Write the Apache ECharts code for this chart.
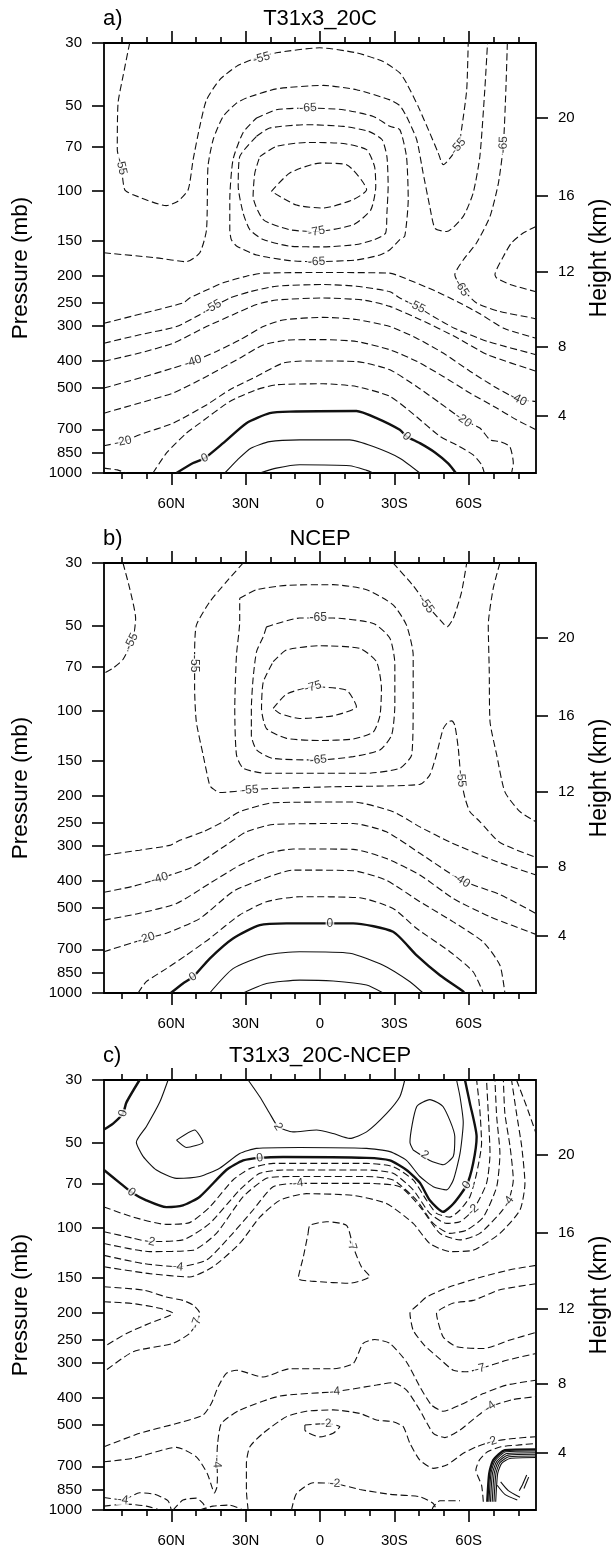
<!DOCTYPE html>
<html><head><meta charset="utf-8">
<script src="https://cdn.jsdelivr.net/npm/echarts@6/dist/echarts.min.js"></script>
<style>html,body{margin:0;padding:0;background:#fff}#c{width:611px;height:1552px}</style>
</head><body><div id="c"></div>
<script>
const FONT = '"Liberation Sans", Arial, Helvetica, sans-serif';
// ---- axes values ----
const latMajor = [60, 30, 0, -30, -60];
const latMinor = [80, 70, 50, 40, 20, 10, -10, -20, -40, -50, -70, -80];
const latRange = [-87.16, 87.16];
const presTicks = [30, 50, 70, 100, 150, 200, 250, 300, 400, 500, 700, 850, 1000];
const presRange = [30, 1000];
const heightKm = [4, 8, 12, 16, 20];
const heightPres = [625, 358, 194, 104, 55.3];
const titles = ['T31x3_20C', 'NCEP', 'T31x3_20C-NCEP'];
const letters = ['a)', 'b)', 'c)'];

// ---- panel a contours [lat, pressure] ----
const aN55top = [[76.8,30],[79.5,39.4],[81.5,49],[81.8,71.6],[80.2,82.1],[78.8,99.3],[75.4,103.4],[62.0,113],[57.3,109],[53.2,99.3],[51.2,77.7],[48.5,59.2],[45.8,47.7],[40.5,40.5],[33.7,36.3],[27.0,34.2],[17.6,32.5],[0.1,31.2],[-14.7,32.5],[-25.5,34.9],[-32.2,38.3],[-34.9,41.6],[-39.6,50.3],[-44.3,62.5],[-47.7,73.5],[-49.7,80.9],[-55.8,69.7],[-57.1,60.8],[-59.2,43.9],[-59.8,30]];
const aN60top = [[87.16,166],[66.0,173],[53.9,178.5],[48.5,166],[45.8,137.6],[45.2,82.1],[43.1,65.9],[39.1,54.6],[33.7,49.0],[29.7,47.0],[17.6,43.6],[-1.3,42.4],[-14.7,43.9],[-28.2,47.7],[-32.2,50.0],[-34.9,54.6],[-39.0,65.9],[-41.6,86.6],[-44.3,113.8],[-46.4,136],[-51.1,139.6],[-57.8,123.4],[-61.8,102],[-64.5,75.8],[-66.5,43.9],[-67.6,30]];
const aN65loop = [[25.6,55.3],[17.6,51.7],[4.8,51.0],[-9.4,51.7],[-21.5,54.6],[-28.2,59.2],[-32.2,60.8],[-34.9,75.8],[-35.6,107.6],[-34.2,145],[-32.2,149],[-28.2,162],[-24.2,169],[-14.7,176],[1.4,178.5],[12.2,177],[25.6,169],[33.7,157],[35.8,149],[36.4,137.6],[36.4,107.6],[35.1,77.7],[31.0,62.2],[25.6,55.3]];
const aN70loop = [[25.6,64.2],[20.3,60.0],[5.5,58.4],[-9.4,59.2],[-19.5,61.6],[-25.0,65.9],[-27.0,75.8],[-27.5,96.6],[-27.0,120.2],[-26.5,141.3],[-22.0,149],[-14.7,155.2],[-1.3,158.2],[12.2,157.3],[22.9,149],[28.3,137.6],[31.0,120.2],[33.0,96.6],[32.4,75.8],[25.6,64.2]];
const aN75loop = [[24.3,75.8],[17.6,69.7],[5.5,67.5],[-9.4,68.1],[-18.8,71.6],[-22.0,82.1],[-22.5,96.6],[-20.5,117],[-13.5,132],[1.4,139.6],[12.2,137.6],[22.9,126.6],[27.0,104.8],[26.3,86.6],[24.3,75.8]];
const aN80loop = [[19.6,100.6],[12.2,86.6],[0.1,79.9],[-10.7,80.9],[-18.8,99.3],[-13.4,107.6],[-1.3,115.3],[9.5,112.5],[19.6,100.6]];
const aN65sh = [[-75.6,30],[-75.0,43.9],[-74.0,68.8],[-72.0,94],[-68.6,123.4],[-63.2,153],[-57.8,176],[-54.4,198.5],[-55.1,206.6],[-57.1,221],[-63.2,250],[-72.6,268],[-86.1,283],[-87.16,285]];
const aN70sh = [[-87.16,134],[-82.0,141.3],[-77.3,153],[-74.0,171],[-70.6,198.5],[-71.3,204],[-76.7,215],[-87.16,228]];
const aN60low = [[87.16,295],[71.4,272],[55.3,250],[52.6,240],[47.2,228],[39.1,212],[29.7,201],[22.9,196],[-1.3,195],[-28.2,196],[-32.2,201],[-45.7,225],[-56.5,250],[-64.5,273],[-74.4,308],[-87.16,333]];
const aN55low = [[87.16,347],[72.8,324],[57.9,303],[48.5,275],[43.1,258],[36.4,240],[28.3,228],[17.6,218],[-1.3,215],[-14.7,218],[-28.2,228],[-32.2,240],[-39.0,257],[-45.7,279],[-54.2,307],[-67.6,342],[-87.16,381]];
const aN50 = [[87.16,402],[72.8,376],[59.3,347],[45.8,303],[35.1,275],[25.6,253],[17.6,244],[-1.3,240],[-17.4,244],[-28.2,257],[-40.7,287],[-54.2,328],[-67.6,381],[-87.16,436]];
const aN40 = [[87.16,500],[72.8,461],[59.3,425],[51.2,403],[41.8,371],[32.4,338],[22.9,303],[14.9,287],[-1.3,281],[-14.7,286],[-28.2,303],[-39.0,333],[-49.7,376],[-60.5,436],[-71.3,500],[-80.0,548],[-87.16,558]];
const aN30 = [[87.16,614],[72.8,565],[59.3,521],[45.8,455],[32.4,392],[22.9,352],[12.2,338],[-1.3,337],[-14.7,342],[-28.2,366],[-39.0,402],[-49.7,455],[-60.5,521],[-71.3,589],[-79.3,648],[-87.16,703]];
const aN20 = [[87.16,801],[79.5,774],[72.8,732],[59.3,666],[45.8,574],[36.4,507],[25.6,455],[14.9,408],[5.5,401],[-14.7,403],[-28.2,431],[-39.0,494],[-48.4,565],[-57.8,648],[-64.5,693],[-68.6,763],[-72.6,774],[-76.6,806],[-78.0,922],[-77.3,1000]];
const aN10 = [[67.4,1000],[62.0,851],[53.9,722],[48.5,666],[36.4,558],[25.6,507],[17.6,487],[-1.3,483],[-14.7,494],[-28.2,535],[-38.0,622],[-48.4,742],[-55.1,795],[-61.8,863],[-65.2,935],[-66.3,1000]];
const aN10c = [[87.16,961],[81.8,975],[78.1,1000]];
const aZ0 = [[57.9,1000],[51.2,922],[46.5,886],[39.1,784],[29.7,666],[20.3,614],[12.2,606],[-14.7,603],[-22.8,639],[-32.2,703],[-34.9,742],[-40.3,784],[-46.4,846],[-51.8,927],[-54.8,1000]];
const aP10 = [[38.4,1000],[33.3,898],[27.9,817],[20.3,774],[8.2,763],[-12.0,763],[-21.5,806],[-32.2,886],[-40.3,1000]];
const aP20 = [[24.3,1000],[17.6,961],[8.2,935],[-12.0,943],[-18.8,979],[-21.5,1000]];
const contoursA = [[-55,aN55top],[-60,aN60top],[-65,aN65loop],[-70,aN70loop],[-75,aN75loop],[-80,aN80loop],[-65,aN65sh],[-70,aN70sh],[-60,aN60low],[-55,aN55low],[-50,aN50],[-40,aN40],[-30,aN30],[-20,aN20],[-10,aN10],[-10,aN10c],[0,aZ0],[10,aP10],[20,aP20]];
const labelsA = [[80.2,82,'-55'],[23.6,33.9,'-55'],[-55.8,69.7,'-55'],[4.8,51,'-65'],[1.4,178.5,'-65'],[1.4,139.6,'-75'],[-74.0,68.8,'-65'],[-57.1,221,'-65'],[43.1,258,'-55'],[-39.0,257,'-55'],[51.2,403,'-40'],[-80.0,548,'-40'],[79.5,774,'-20'],[-57.8,648,'-20'],[46.5,886,'0'],[-34.9,742,'0']];

// ---- panel b contours ----
const bN55nh = [[79.5,30],[76.8,36.9],[74.4,47.2],[75.5,55.9],[79.5,65.9],[83.5,70.7],[87.16,73.8]];
const bN55main = [[31.0,30],[37.8,35.0],[44.5,41.2],[49.9,49.9],[50.6,63.3],[50.6,83.5],[49.9,109.6],[47.2,143],[44.5,184],[43.2,189],[40.5,195],[28.3,191],[21.6,189],[-5.3,186],[-40.3,182.5],[-44.3,169],[-47.0,143],[-49.7,116],[-51.7,109.6],[-53.1,108.7],[-54.4,112.7],[-55.8,136],[-56.9,174],[-58.5,204],[-60.5,228],[-64.5,247],[-72.6,293],[-87.16,331]];
const bN60sh = [[-72.6,30],[-69.9,36.9],[-67.9,49.8],[-68.3,72.8],[-68.6,109.3],[-71.3,143.4],[-74.6,194],[-80.7,228],[-87.16,247.6]];
const bN55u = [[-29.5,30],[-37.6,36.1],[-44.3,43.4],[-49.7,49.1],[-51.3,50.5],[-53.8,47.1],[-57.1,38.1],[-59.2,30]];
const bN60loop = [[32.4,40.0],[25.7,37.3],[13.5,36.0],[-5.3,35.8],[-18.8,37.3],[-29.5,42.2],[-34.9,49.8],[-37.6,63.5],[-37.6,95.6],[-37.0,143.4],[-32.2,160],[-18.8,166.7],[21.6,166.7],[31.0,160],[33.7,143.4],[34.4,98.2],[33.7,63.5],[32.4,48.3],[32.4,40.0]];
const bN65loop = [[21.6,50.5],[8.2,47.0],[-5.3,47.0],[-21.5,49.1],[-28.2,55.4],[-30.2,68.2],[-30.2,95.6],[-28.9,122.2],[-24.2,137.8],[-13.4,145.5],[0.7,149.5],[19.3,147.5],[25.6,137.8],[27.7,122.2],[27.7,98.2],[27.0,76.9],[25.6,61.8],[22.9,54.7],[21.6,50.5]];
const bN70loop = [[18.9,67.1],[13.5,61.0],[0.1,58.9],[-16.1,60.2],[-22.8,67.1],[-24.8,83.4],[-24.2,104],[-21.5,119],[-13.4,126],[0.1,127.6],[13.5,125.4],[21.6,115.7],[23.6,98.2],[22.9,79.2],[18.9,67.1]];
const bN75loop = [[18.9,98.2],[13.5,87.4],[2.8,82.3],[-10.7,84.7],[-14.7,96.8],[-5.3,104.3],[8.2,106.6],[16.2,102.3],[18.9,98.2]];
const bN50 = [[87.16,325],[72.8,312],[60.6,300],[56.6,288],[47.2,268.6],[39.1,247.6],[32.4,228],[18.9,212],[-13.4,210.6],[-29.5,228],[-40.3,258],[-52.4,292],[-69.9,339],[-87.16,382]];
const bN40 = [[87.16,440],[75.5,419],[64.7,393],[51.2,357],[37.8,299],[29.7,268.6],[18.9,253],[-13.4,251],[-26.8,268.6],[-40.3,320],[-57.1,399],[-72.6,448],[-87.16,523]];
const bN30 = [[87.16,552],[72.8,522],[57.9,482],[44.5,409],[32.4,353],[21.6,321],[10.8,309],[-13.4,310],[-26.8,334],[-40.3,382],[-53.8,463],[-68.6,537],[-87.16,620]];
const bN20 = [[87.16,714],[70.1,641],[62.0,614],[48.5,545],[35.1,437],[24.3,398],[10.8,367],[-13.4,369],[-26.8,399],[-40.3,475],[-53.8,560],[-65.9,660],[-72.6,797],[-74.6,1000]];
const bN10 = [[73.4,1000],[70.1,912],[62.0,820],[53.9,734],[44.5,641],[32.4,529],[21.6,475],[8.2,456],[-16.1,460],[-29.5,502],[-38.9,590],[-52.4,714],[-61.8,841],[-65.9,1000]];
const bZ0 = [[60.2,1000],[55.3,925],[51.2,877],[44.5,755],[35.1,641],[24.3,575],[13.5,567],[-4.0,567],[-13.4,567],[-29.5,607],[-38.9,734],[-48.4,865],[-57.8,987],[-58.2,1000]];
const bP10 = [[44.5,1000],[35.1,820],[21.6,734],[8.2,714],[-12.0,723],[-25.5,797],[-36.3,912],[-41.6,1000]];
const bP20 = [[31.0,1000],[21.6,925],[8.2,900],[-5.3,907],[-18.8,937],[-25.5,1000]];
const contoursB = [[-55,bN55nh],[-55,bN55main],[-60,bN60sh],[-55,bN55u],[-60,bN60loop],[-65,bN65loop],[-70,bN70loop],[-75,bN75loop],[-50,bN50],[-40,bN40],[-30,bN30],[-20,bN20],[-10,bN10],[0,bZ0],[10,bP10],[20,bP20]];
const labelsB = [[76.1,56.9,'-55'],[50.6,68.2,'-55'],[28.3,191,'-55'],[-56.9,174,'-55'],[-43.0,42.2,'-55'],[0.7,47.0,'-65'],[0.7,149.5,'-65'],[2.8,82.3,'-75'],[64.7,393,'-40'],[-57.1,399,'-40'],[70.1,641,'-20'],[51.2,877,'0'],[-4.0,567,'0']];

// ---- panel c contours ----
const cZ0a = [[72.8,30],[78.1,36.0],[79.5,39.4],[83.5,42.8],[87.16,44.9]];
const cZ0b = [[87.16,62.5],[80.8,69.4],[76.1,74.9],[70.1,80.0],[62.0,84.6],[55.3,83.4],[48.5,77.7],[37.8,62.5],[31.0,57.8],[24.3,56.6],[14.9,56.2],[-18.8,56.6],[-28.2,57.8],[-34.9,62.5],[-40.3,69.4],[-44.3,80.0],[-49.7,87.9],[-53.8,82.3],[-59.2,70.7],[-61.8,59.2],[-63.2,47.7],[-60.5,36.3],[-58.5,30]];
const cP1 = [[61.3,30],[64.7,36.0],[70.1,43.9],[74.1,49.8],[71.4,55.9],[66.0,62.5],[57.9,66.9],[48.5,65.9],[40.5,61.6],[32.4,54.6],[25.6,52.4],[8.2,52.0],[-18.8,52.4],[-28.2,53.8],[-34.9,57.8],[-40.3,65.9],[-45.7,71.6],[-51.1,73.5],[-53.8,67.8],[-56.5,54.6],[-57.8,42.4],[-56.5,34.4],[-55.1,30]];
const cP2a = [[29.0,30],[24.3,34.4],[20.3,39.4],[16.9,43.9],[10.9,45.8],[1.4,45.1],[-5.3,46.4],[-12.0,48.3],[-18.8,45.8],[-26.9,39.4],[-32.2,34.4],[-34.2,30]];
const cP2b = [[57.9,49.0],[50.6,45.1],[47.2,49.8],[53.9,52.0],[57.9,49.0]];
const cP2c = [[-37.6,53.1],[-36.3,49.8],[-39.0,37.3],[-44.3,35.2],[-49.7,37.3],[-54.4,47.7],[-53.8,55.9],[-49.7,59.9],[-44.3,57.8],[-37.6,53.1]];
const cN1 = [[87.16,84.5],[75.4,91.8],[62.0,97.4],[52.6,96.0],[44.5,84.5],[35.1,67.8],[28.3,61.8],[18.9,59.2],[-18.8,59.2],[-29.5,60.8],[-37.6,67.8],[-43.0,80.0],[-47.0,89.0],[-52.4,91.8],[-56.5,86.6],[-60.5,77.7],[-63.2,64.2],[-65.2,50.3],[-64.5,38.3],[-63.2,30]];
const cN2 = [[87.16,103.4],[75.4,109.0],[68.7,112.0],[55.3,110.5],[44.5,96.6],[32.4,73.5],[24.3,64.2],[14.9,62.5],[-18.8,62.5],[-29.5,64.2],[-37.6,73.5],[-44.3,89.0],[-51.1,96.6],[-56.5,95.3],[-61.8,86.6],[-67.2,69.7],[-68.6,54.6],[-67.9,39.4],[-67.2,30]];
const cN3 = [[87.16,113.8],[68.7,121.6],[51.2,120.2],[41.8,104.8],[31.0,77.7],[21.6,66.9],[12.2,65.9],[-18.8,65.9],[-29.5,67.8],[-39.0,80.0],[-45.7,96.6],[-52.4,104.8],[-59.2,102.0],[-65.9,91.8],[-71.3,71.6],[-72.6,54.6],[-71.3,40.5],[-70.6,30]];
const cN4 = [[87.16,125.4],[71.4,134],[57.3,137.6],[45.8,130.3],[36.4,107.6],[27.0,86.6],[18.9,71.6],[8.8,69.7],[-18.8,69.7],[-32.2,71.6],[-40.3,84.2],[-48.4,104.8],[-56.5,110.5],[-64.5,104.8],[-72.6,89.0],[-76.0,80.9],[-78.0,67.8],[-76.7,51.7],[-74.6,39.4],[-74.0,30]];
const cN5 = [[87.16,137.6],[68.7,145.5],[52.6,149.5],[43.2,137.6],[32.4,113.8],[24.3,91.8],[16.2,80.0],[5.5,75.8],[-13.4,76.9],[-26.8,82.1],[-37.6,96.6],[-44.3,113.8],[-52.4,121.6],[-61.8,120.2],[-72.6,104.8],[-80.7,86.6],[-82.7,69.7],[-81.4,51.7],[-79.3,39.4],[-77.3,30]];
const cN5b = [[-79.3,30],[-83.4,37.3],[-87.16,46.3]];
const cN7a = [[87.16,162],[71.4,166.3],[62.0,176],[55.3,181],[51.2,188],[48.5,201],[49.9,218],[52.6,237],[59.3,257],[75.4,275],[87.16,324]];
const cN10a = [[87.16,183],[75.4,185.7],[64.7,193],[59.3,201],[68.7,218],[78.1,237],[87.16,264]];
const cN7b = [[4.8,104.8],[4.1,98.2],[-2.6,95.3],[-10.7,98.2],[-13.4,117],[-16.7,137.6],[-20.1,149],[-12.0,157.3],[1.4,155.2],[8.8,151.3],[6.8,127.8],[4.8,104.8]];
const cN5c = [[87.16,597],[72.8,535],[57.9,494],[47.2,461],[43.8,419],[41.1,366],[37.8,328],[33.7,320],[23.0,338],[12.2,316],[-5.3,316],[-13.4,303],[-17.4,257],[-22.1,249],[-28.2,257],[-34.9,299],[-40.3,366],[-45.0,425],[-49.7,447],[-56.5,425],[-65.9,387],[-75.3,361],[-87.16,347]];
const cN4b = [[87.16,675],[75.4,656],[57.9,600],[49.9,648],[45.5,742],[43.4,840],[42.6,870],[41.6,830],[41.4,760],[41.6,660],[41.3,580],[39.8,494],[32.4,443],[16.2,395],[-6.0,381],[-22.8,361],[-29.5,354],[-34.9,376],[-40.3,443],[-45.7,535],[-50.4,554],[-56.5,521],[-63.2,467],[-68.6,431],[-78.0,406],[-87.16,397]];
const cN2b = [[29.0,1000],[29.7,851],[29.7,684],[28.3,597],[23.0,535],[13.5,467],[5.5,447],[-5.3,442],[-16.1,455],[-22.8,480],[-29.5,487],[-33.6,507],[-36.3,581],[-40.3,666],[-45.7,712],[-51.1,693],[-57.8,630],[-63.2,597],[-69.2,573],[-78.0,558],[-87.16,550]];
const cN2c = [[6.1,500],[-2.6,494],[-8.0,507],[-5.3,535],[0.1,551],[6.1,521],[6.1,500]];
const cN2d = [[11.5,1000],[9.5,875],[2.8,801],[-6.0,806],[-16.1,846],[-28.2,880],[-40.3,898],[-45.7,948],[-47.0,1000]];
const cN2e = [[-45.2,1000],[-45.7,975],[-48.4,927],[-56.5,927]];
const cN1b = [[-65.9,935],[-65.2,817],[-62.9,722],[-64.3,666],[-67.6,622],[-73.0,597],[-79.7,589],[-87.16,581]];
const cN7c = [[-87.16,136],[-76.7,141],[-65.9,149],[-52.4,162],[-43.0,176],[-40.3,185],[-36.3,201],[-37.6,231],[-42.3,262],[-48.4,292],[-53.8,320],[-59.2,324],[-64.5,316],[-75.3,295],[-87.16,279]];
const cN10b = [[-87.16,158],[-72.6,166],[-61.8,181],[-53.8,185],[-47.0,201],[-49.7,244],[-55.1,264],[-65.9,268],[-76.7,250],[-87.16,235]];
const cN4c = [[87.16,903],[79.5,920],[72.8,869],[66.7,880],[61.3,928],[60.0,1000]];
const cN4d = [[87.16,969],[78.1,953],[70.1,969],[64.7,1000]];
const cN4e = [[59.3,1000],[55.3,922],[49.9,908],[47.2,948],[45.8,1000]];
const cN4f = [[48.5,1000],[43.2,969],[36.4,961],[31.0,1000]];
const cB0 = [[-67.5,935],[-68.3,742],[-69.9,666],[-74.6,614],[-87.16,610]];
const cB1 = [[-68.2,935],[-69.0,742],[-70.6,670],[-75.0,622],[-87.16,618]];
const cB2 = [[-68.8,935],[-69.6,742],[-71.3,673],[-75.4,631],[-87.16,627]];
const cB3 = [[-69.5,935],[-70.3,742],[-71.9,677],[-75.8,639],[-87.16,635]];
const cB4 = [[-70.2,935],[-71.0,742],[-72.6,680],[-76.2,648],[-87.16,644]];
const cB5 = [[-70.9,935],[-71.7,742],[-73.3,684],[-76.6,657],[-87.16,652]];
const cH1 = [[-80.7,902],[-76.0,854],[-72.9,795]];
const cH2 = [[-79.6,922],[-74.6,880],[-71.5,817]];
const cH3 = [[-83.4,752],[-81.8,810],[-80.4,854]];
const cH4 = [[-84.2,765],[-82.3,839]];
const contoursC = [[0,cZ0a],[0,cZ0b],[1,cP1],[2,cP2a],[2,cP2b],[2,cP2c],[-1,cN1],[-2,cN2],[-3,cN3],[-4,cN4],[-5,cN5],[-5,cN5b],[-7,cN7a],[-10,cN10a],[-7,cN7b],[-5,cN5c],[-4,cN4b],[-2,cN2b],[-2,cN2c],[-2,cN2d],[-2,cN2e],[-1,cN1b],[-7,cN7c],[-10,cN10b],[-4,cN4c],[-4,cN4d],[-4,cN4e],[-4,cN4f],[0,cB0],[1,cB1],[2,cB2],[4,cB3],[7,cB4],[10,cB5],[4,cH1],[4,cH2],[2,cH3],[2,cH4]];
const labelsC = [[79.5,39.4,'0'],[76.1,74.9,'0'],[24.3,56.6,'0'],[-59.2,70.7,'0'],[16.9,43.9,'2'],[-42.3,55.3,'2'],[68.7,112,'-2'],[-61.8,86.6,'-2'],[57.3,137.6,'-4'],[8.8,69.7,'-4'],[-76.0,80.9,'-4'],[-12.7,115.3,'-7'],[49.9,218,'-7'],[-64.5,316,'-7'],[41.6,680,'-4'],[-6.0,381,'-4'],[-68.6,431,'-4'],[-2.6,494,'-2'],[-69.2,573,'-2'],[-6.0,806,'-2'],[79.5,920,'-4']];

const panels = [{contours: contoursA, labels: labelsA}, {contours: contoursB, labels: labelsB}, {contours: contoursC, labels: labelsC}];

// ---- layout ----
const tops = [43, 563, 1080];
const GL = 104, GW = 432, GH = 430;
const tickStyle = {color: '#000', width: 1.6};
const fmtLat = v => v === 0 ? '0' : (v > 0 ? v + 'N' : (-v) + 'S');

const grid = tops.map(t => ({left: GL, top: t, width: GW, height: GH, show: true, borderColor: '#000', borderWidth: 1.8, backgroundColor: 'rgba(0,0,0,0)', containLabel: false}));
const xAxis = [], yAxis = [], series = [], graphic = [];
tops.forEach((t, p) => {
  const base = {type: 'value', gridIndex: p, min: latRange[0], max: latRange[1], inverse: true, splitLine: {show: false}, axisLine: {show: false, onZero: false}};
  xAxis.push(Object.assign({}, base, {position: 'bottom', axisTick: {show: true, length: 12, lineStyle: tickStyle, customValues: latMajor}, axisLabel: {show: true, customValues: latMajor, formatter: fmtLat, margin: 23, fontSize: 15, fontFamily: FONT, color: '#000'}}));
  xAxis.push(Object.assign({}, base, {position: 'bottom', axisTick: {show: true, length: 6, lineStyle: tickStyle, customValues: latMinor}, axisLabel: {show: false}}));
  xAxis.push(Object.assign({}, base, {position: 'top', axisTick: {show: true, length: 12, lineStyle: tickStyle, customValues: latMajor}, axisLabel: {show: false}}));
  xAxis.push(Object.assign({}, base, {position: 'top', axisTick: {show: true, length: 6, lineStyle: tickStyle, customValues: latMinor}, axisLabel: {show: false}}));
  const ybase = {type: 'log', logBase: 10, gridIndex: p, min: presRange[0], max: presRange[1], inverse: true, splitLine: {show: false}, minorTick: {show: false}, axisLine: {show: false, onZero: false}};
  yAxis.push(Object.assign({}, ybase, {position: 'left', axisTick: {show: true, length: 12, lineStyle: tickStyle, customValues: presTicks}, axisLabel: {show: true, customValues: presTicks, formatter: v => String(Math.round(v)), margin: 22, fontSize: 15, fontFamily: FONT, color: '#000'}}));
  yAxis.push(Object.assign({}, ybase, {position: 'right', axisTick: {show: true, length: 12, lineStyle: tickStyle, customValues: heightPres}, axisLabel: {show: true, customValues: heightPres, formatter: v => { let k = 0, bd = Infinity; heightPres.forEach((h, i) => { const d = Math.abs(h - v); if (d < bd) { bd = d; k = i; } }); return String(heightKm[k]); }, margin: 22, fontSize: 15, fontFamily: FONT, color: '#000'}}));

  panels[p].contours.forEach(c => {
    const lvl = c[0];
    series.push({type: 'line', xAxisIndex: p * 4, yAxisIndex: p * 2, data: c[1], showSymbol: false, symbol: 'none', smooth: 0.2, silent: true, animation: false, z: 2,
      lineStyle: {color: '#111', width: lvl === 0 ? 2.4 : 1.1, type: lvl < 0 ? [7, 3.5] : 'solid', cap: 'butt'}});
  });
  series.push({id: 'labels' + p, type: 'scatter', xAxisIndex: p * 4, yAxisIndex: p * 2, symbol: 'circle', symbolSize: 1, itemStyle: {color: 'rgba(0,0,0,0)'}, silent: true, animation: false, z: 10,
    data: panels[p].labels.map(l => ({value: [l[0], l[1]], name: l[2]})),
    label: {show: true, position: 'inside', formatter: q => q.name, fontSize: 12, fontFamily: FONT, color: '#000', backgroundColor: '#fff', padding: [0, 1], lineHeight: 12}});

  graphic.push({type: 'text', x: 103, y: t - 24, style: {text: letters[p], fontSize: 22, fontFamily: FONT, fill: '#000', align: 'left', verticalAlign: 'middle'}});
  graphic.push({type: 'text', x: 320, y: t - 24, style: {text: titles[p], fontSize: 22, fontFamily: FONT, fill: '#000', align: 'center', verticalAlign: 'middle'}});
  graphic.push({type: 'text', x: 21, y: t + 225, rotation: Math.PI / 2, style: {text: 'Pressure (mb)', fontSize: 22.5, fontFamily: FONT, fill: '#000', align: 'center', verticalAlign: 'middle'}});
  graphic.push({type: 'text', x: 600, y: t + 215, rotation: Math.PI / 2, style: {text: 'Height (km)', fontSize: 23, fontFamily: FONT, fill: '#000', align: 'center', verticalAlign: 'middle'}});
});

const chart = echarts.init(document.getElementById('c'), null, {renderer: 'canvas'});
chart.setOption({animation: false, backgroundColor: '#fff', grid, xAxis, yAxis, series, graphic});

// orient each contour label along the nearest contour segment (in pixel space)
function distToSeg(q, a, b) {
  const dx = b[0] - a[0], dy = b[1] - a[1];
  const L = dx * dx + dy * dy;
  let tt = L ? ((q[0] - a[0]) * dx + (q[1] - a[1]) * dy) / L : 0;
  tt = Math.max(0, Math.min(1, tt));
  const x = a[0] + tt * dx, y = a[1] + tt * dy;
  return Math.hypot(q[0] - x, q[1] - y);
}
const upd = [];
panels.forEach((pan, p) => {
  const finder = {xAxisIndex: p * 4, yAxisIndex: p * 2};
  const toPx = pt => chart.convertToPixel(finder, pt);
  const segs = [];
  pan.contours.forEach(c => {
    const px = c[1].map(toPx);
    for (let i = 0; i < px.length - 1; i++) segs.push([px[i], px[i + 1]]);
  });
  const data = pan.labels.map(l => {
    const q = toPx([l[0], l[1]]);
    let best = null, bd = Infinity;
    segs.forEach(s => { const d = distToSeg(q, s[0], s[1]); if (d < bd) { bd = d; best = s; } });
    let ang = 0;
    if (best) ang = -Math.atan2(best[1][1] - best[0][1], best[1][0] - best[0][0]) * 180 / Math.PI;
    if (ang > 90) ang -= 180;
    if (ang < -90) ang += 180;
    return {value: [l[0], l[1]], name: l[2], label: {rotate: ang}};
  });
  upd.push({id: 'labels' + p, data});
});
chart.setOption({series: upd});
</script></body></html>
